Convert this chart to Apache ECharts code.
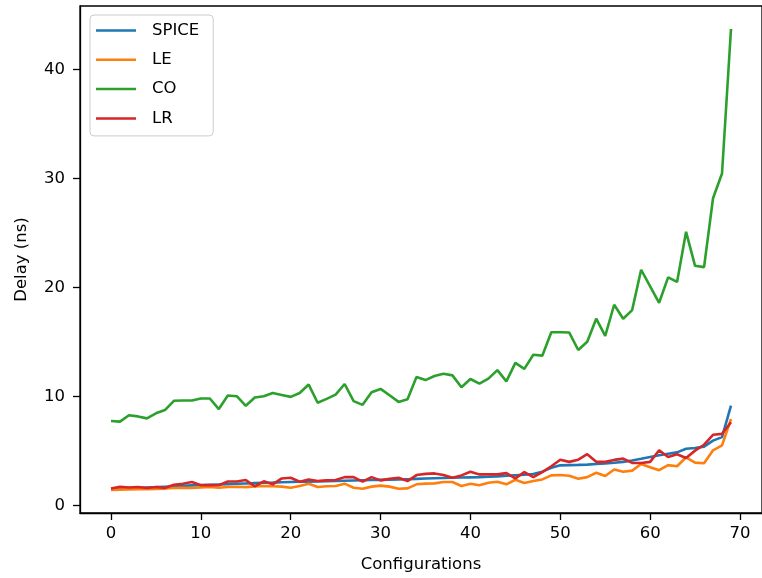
<!DOCTYPE html>
<html>
<head>
<meta charset="utf-8">
<script src="https://cdn.jsdelivr.net/npm/echarts@6/dist/echarts.min.js"></script>
<style>
html,body{margin:0;padding:0;background:#fff;}
#c{width:762px;height:578px;}
</style>
</head>
<body>
<div id="c"></div>
<script>
const seriesNames = ['SPICE', 'LE', 'CO', 'LR'];
const xTicks = [0, 10, 20, 30, 40, 50, 60, 70];
const yTicks = [0, 10, 20, 30, 40];

const spice = [1.5,1.55,1.6,1.62,1.65,1.68,1.72,1.76,1.8,1.84,1.87,1.9,1.93,1.96,1.99,2.02,2.05,2.08,2.1,2.13,
  2.15,2.17,2.19,2.21,2.23,2.25,2.27,2.29,2.31,2.33,2.35,2.37,2.39,2.41,2.44,2.47,2.5,2.52,2.54,2.56,
  2.58,2.6,2.63,2.67,2.72,2.77,2.82,2.88,3.1,3.45,3.68,3.7,3.72,3.75,3.8,3.85,3.92,4.0,4.12,4.28,
  4.45,4.6,4.75,4.87,5.2,5.27,5.4,5.95,6.27,9.15];
const le = [1.42,1.45,1.48,1.5,1.5,1.52,1.55,1.6,1.62,1.6,1.65,1.7,1.62,1.7,1.72,1.68,1.75,1.79,1.76,1.73,
  1.63,1.79,2.0,1.7,1.76,1.79,2.0,1.63,1.54,1.73,1.82,1.73,1.54,1.57,1.94,2.0,2.03,2.15,2.15,1.79,
  2.0,1.85,2.09,2.18,1.94,2.36,2.06,2.24,2.39,2.76,2.79,2.73,2.45,2.6,3.0,2.7,3.3,3.09,3.2,3.81,
  3.51,3.24,3.7,3.6,4.42,3.93,3.87,5.06,5.51,7.93];
const co = [7.75,7.69,8.27,8.17,7.99,8.45,8.75,9.6,9.63,9.63,9.81,9.81,8.84,10.08,10.02,9.14,9.9,10.02,10.32,10.14,
  9.96,10.32,11.09,9.42,9.78,10.17,11.14,9.57,9.23,10.38,10.69,10.11,9.5,9.75,11.78,11.5,11.87,12.08,11.93,10.84,
  11.6,11.17,11.63,12.41,11.38,13.08,12.53,13.83,13.74,15.89,15.89,15.86,14.26,15.02,17.13,15.56,18.41,17.13,17.92,21.62,
  20.1,18.59,20.92,20.5,25.1,21.98,21.86,28.18,30.45,43.7];
const lr = [1.55,1.72,1.65,1.7,1.6,1.7,1.6,1.9,2.0,2.15,1.85,1.88,1.85,2.2,2.2,2.33,1.76,2.22,1.94,2.48,
  2.54,2.18,2.39,2.24,2.3,2.33,2.6,2.6,2.18,2.6,2.3,2.45,2.54,2.24,2.79,2.9,2.94,2.79,2.54,2.76,
  3.09,2.85,2.85,2.85,2.97,2.48,3.06,2.6,3.06,3.6,4.2,4.0,4.2,4.7,4.0,4.0,4.18,4.3,3.9,3.9,
  4.0,5.06,4.45,4.7,4.36,5.03,5.57,6.48,6.57,7.63];

const colors = ['#1f77b4', '#ff7f0e', '#2ca02c', '#d62728'];
const allValues = [spice, le, co, lr];

const FONT = 'DejaVu Sans';
const FS = 16.5;

const chart = echarts.init(document.getElementById('c'), null, {renderer: 'canvas'});
chart.setOption({
  animation: false,
  backgroundColor: '#fff',
  color: colors,
  textStyle: {fontFamily: FONT},
  grid: {
    left: 80, top: 6, right: -4, bottom: 63,
    show: true, borderColor: '#000', borderWidth: 1.3, backgroundColor: 'transparent',
    containLabel: false
  },
  legend: {
    orient: 'vertical',
    left: 90, top: 15,
    padding: [7, 14, 9, 6],
    backgroundColor: 'rgba(255,255,255,0.8)',
    borderColor: '#cccccc', borderWidth: 1, borderRadius: 4,
    icon: 'rect',
    itemWidth: 40, itemHeight: 2.5, itemGap: 12.3,
    textStyle: {fontFamily: FONT, fontSize: FS, color: '#000', lineHeight: 16, padding: [0, 0, 0, 11]},
    data: seriesNames
  },
  xAxis: {
    type: 'value',
    min: -3.45, max: 72.45,
    name: 'Configurations',
    nameLocation: 'middle',
    nameGap: 43,
    nameTextStyle: {fontFamily: FONT, fontSize: FS, color: '#000'},
    axisLine: {show: true, onZero: false, lineStyle: {color: '#000', width: 1.3}},
    axisTick: {show: true, length: 7, customValues: xTicks, lineStyle: {color: '#000', width: 1.3}},
    axisLabel: {customValues: xTicks, margin: 12, fontFamily: FONT, fontSize: FS, color: '#000'},
    splitLine: {show: false}
  },
  yAxis: {
    type: 'value',
    min: -0.69, max: 45.81,
    name: 'Delay (ns)',
    nameLocation: 'middle',
    nameGap: 50,
    nameTextStyle: {fontFamily: FONT, fontSize: FS, color: '#000'},
    axisLine: {show: true, onZero: false, lineStyle: {color: '#000', width: 1.3}},
    axisTick: {show: true, length: 7, customValues: yTicks, lineStyle: {color: '#000', width: 1.3}},
    axisLabel: {customValues: yTicks, margin: 15, fontFamily: FONT, fontSize: FS, color: '#000'},
    splitLine: {show: false}
  },
  series: seriesNames.map((name, k) => ({
    name: name,
    type: 'line',
    symbol: 'none',
    data: allValues[k].map((v, i) => [i, v]),
    lineStyle: {width: 2.6, color: colors[k]},
    itemStyle: {color: colors[k]}
  }))
});
</script>
</body>
</html>
